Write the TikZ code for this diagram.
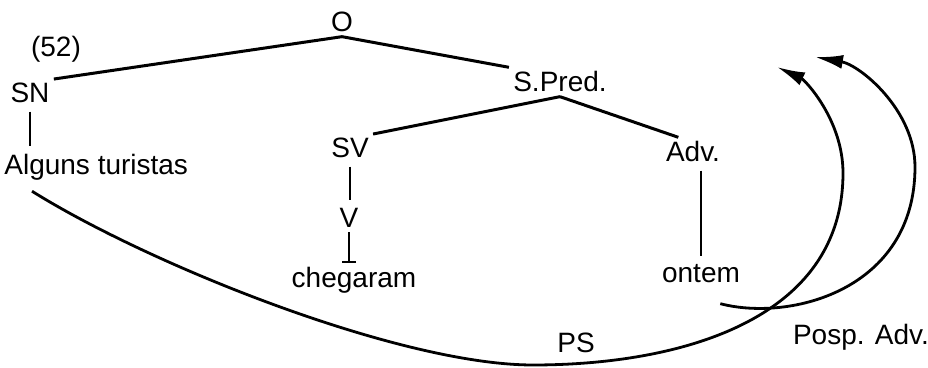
\documentclass[tikz,border=0pt]{standalone}
\usepackage{fontspec}
\setmainfont{Liberation Sans}
\usetikzlibrary{arrows.meta}
\usepackage{xcolor}

\begin{document}
\begin{tikzpicture}[x=0.5pt,y=-0.5pt]
\tikzstyle{cat} = [anchor=base, inner sep=2pt, font=\fontsize{14}{16}\selectfont]
\tikzstyle{branch} = [draw, line width=1.5pt]
\tikzstyle{stem} = [draw, line width=1.3pt, shorten <=2pt, shorten >=2pt]
\tikzstyle{move} = [draw, line width=1.4pt, -{Latex[length=14pt,width=7pt]}]
\useasboundingbox (0,0) rectangle (928,368);
% tree
\node [cat] (num) at (56,57) {(52)};
\node [cat] (O) at (342,32) {O};
\node [cat] (SN) at (30,103) {SN};
\node [cat, anchor=base west] (alguns) at (0,175) {Alguns turistas};
\node [cat] (spred) at (560,92) {S.Pred.};
\node [cat] (SV) at (350,158) {SV};
\node [cat] (V) at (349,228) {V};
\node [cat] (cheg) at (354,288) {chegaram};
\node [cat] (adv) at (693,162) {Adv.};
\node [cat] (ontem) at (701,283) {ontem};
% labels of the moves
\node [cat] (ps) at (576,353) {PS};
\node [cat] (posp) at (861,345) {Posp. Adv.};
\coordinate (ps-tip) at (777,67);
\coordinate (posp-tip) at (815,57);
% branches
\path [branch] (SN.north east) -- (O.south);
\path [branch] (O.south) -- (spred.north west);
\path [branch] (spred.south) -- (SV.north east);
\path [branch] (spred.south) -- (adv.135);
\path [stem] (SN.south) -- (SN.south |- alguns.north);
\path [stem] (SV.south) -- (SV.south |- V.north);
\path [stem, shorten <=0pt, shorten >=0pt, -{Bar[width=7pt]}] (V.south) -- (V.south |- cheg.north);
\path [stem] (adv.south -| ontem.north) -- (ontem.north);
% moves
\path [move] ([xshift=16pt,yshift=-3pt]alguns.south west)
  .. controls (150,265) and (400,365) .. (533,365)
  .. controls (680,365) and (843,320) .. (843,173)
  .. controls (843,120) and (805,80) .. (ps-tip);
\path [move] ([xshift=-12pt,yshift=-8pt]ontem.south east)
  .. controls (790,322) and (915,290) .. (915,167)
  .. controls (915,110) and (860,65) .. (posp-tip);
\end{tikzpicture}
\end{document}
